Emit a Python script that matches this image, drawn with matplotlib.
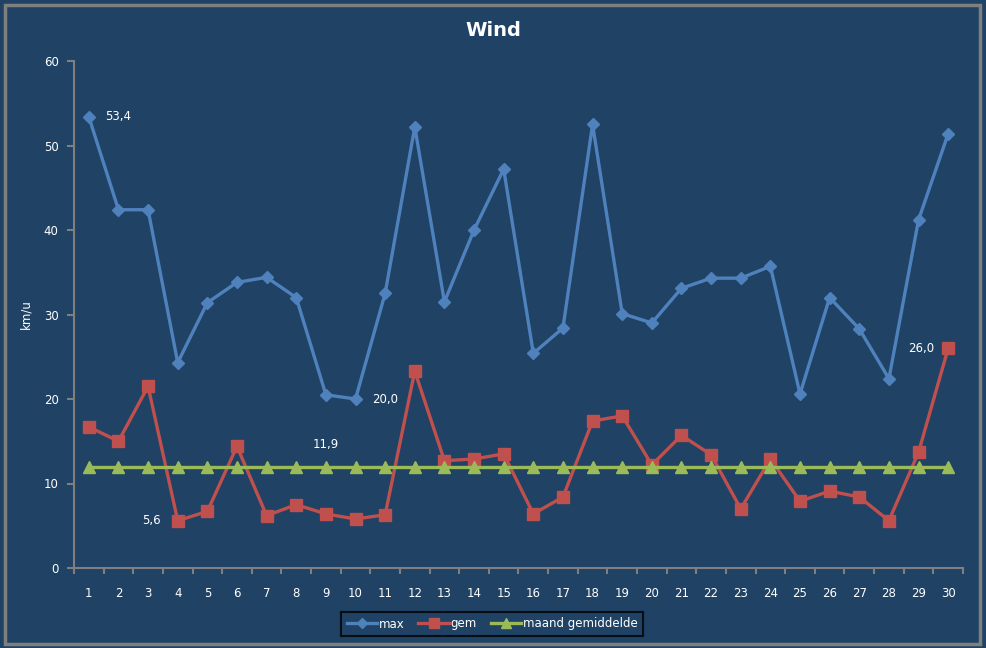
import matplotlib.pyplot as plt
from matplotlib.patches import Rectangle

# data
days = list(range(1, 31))
max_wind = [53.4, 42.4, 42.4, 24.3, 31.4, 33.8, 34.4, 32.0, 20.5, 20.0,
            32.5, 52.2, 31.5, 40.0, 47.2, 25.4, 28.4, 52.5, 30.1, 29.0,
            33.1, 34.3, 34.3, 35.7, 20.6, 32.0, 28.3, 22.4, 41.2, 51.4]
gem_wind = [16.7, 15.0, 21.5, 5.6, 6.7, 14.4, 6.2, 7.5, 6.4, 5.8,
            6.3, 23.3, 12.7, 12.9, 13.5, 6.4, 8.4, 17.4, 18.0, 12.2,
            15.7, 13.4, 7.0, 12.9, 7.9, 9.1, 8.4, 5.6, 13.7, 26.0]
maand_gem = [11.9] * 30

bg = '#1F4265'
blue = '#4F81BD'
red = '#C0504D'
green = '#9BBB59'
grey = '#7F7F7F'

fig = plt.figure(figsize=(9.87, 6.48), dpi=100)
fig.patch.set_facecolor(bg)
fig.patches.append(Rectangle((0.005, 0.006), 0.988, 0.986, transform=fig.transFigure,
                             fill=False, edgecolor=grey, linewidth=2.5))

ax = fig.add_axes([74/987, 1-568/648, (963-74)/987, (568-61)/648])
ax.set_facecolor(bg)

ax.plot(days, max_wind, color=blue, linewidth=2.4, marker='D', markersize=6.5, label='max')
ax.plot(days, gem_wind, color=red, linewidth=2.4, marker='s', markersize=8.5, label='gem')
ax.plot(days, maand_gem, color=green, linewidth=2.4, marker='^', markersize=8.5,
        label='maand gemiddelde')

# data labels
fmt = lambda v: ('%.1f' % v).replace('.', ',')
ax.annotate(fmt(max_wind[0]), (1, max_wind[0]), xytext=(12, 0), textcoords='offset points',
            color='white', fontsize=8.5, va='center')
ax.annotate(fmt(max_wind[9]), (10, max_wind[9]), xytext=(12, 0), textcoords='offset points',
            color='white', fontsize=8.5, va='center')
ax.annotate(fmt(gem_wind[3]), (4, gem_wind[3]), xytext=(-12, 0), textcoords='offset points',
            color='white', fontsize=8.5, va='center', ha='right')
ax.annotate(fmt(gem_wind[29]), (30, gem_wind[29]), xytext=(-10, 0), textcoords='offset points',
            color='white', fontsize=8.5, va='center', ha='right')
ax.annotate(fmt(maand_gem[8]), (9, maand_gem[8]), xytext=(0, 12), textcoords='offset points',
            color='white', fontsize=8.5, va='bottom', ha='center')

ax.set_xlim(0.5, 30.5)
ax.set_ylim(0, 60)
ax.set_yticks(range(0, 61, 10))
ax.set_xticks(days)
ax.set_xticks([d + 0.5 for d in range(0, 31)], minor=True)
ax.tick_params(axis='x', which='major', length=0, colors='white', labelsize=8.5, pad=14)
ax.tick_params(axis='x', which='minor', length=4, color=grey, width=1.5)
ax.tick_params(axis='y', length=5, color=grey, width=1.5, colors='white', labelsize=8.5, pad=6)
for lbl in ax.get_yticklabels() + ax.get_xticklabels():
    lbl.set_color('white')
for s in ['top', 'right']:
    ax.spines[s].set_visible(False)
for s in ['left', 'bottom']:
    ax.spines[s].set_color(grey)
    ax.spines[s].set_linewidth(1.5)

ax.set_ylabel('km/u', color='white', fontsize=8.5, labelpad=8)
fig.text(0.5, 1-30/648, 'Wind', color='white', fontsize=14, fontweight='bold',
         ha='center', va='center')

leg = fig.legend(loc='center', bbox_to_anchor=(492/987, 1-624/648), ncol=3, frameon=True,
                 fontsize=8.5, handlelength=2.6, handletextpad=0.1, columnspacing=1.2,
                 borderpad=0.45, fancybox=False, markerscale=0.8)
leg.get_frame().set_facecolor(bg)
leg.get_frame().set_edgecolor('black')
leg.get_frame().set_linewidth(1.5)
for t in leg.get_texts():
    t.set_color('white')

fig.savefig('out.png', dpi=100, facecolor=bg)
